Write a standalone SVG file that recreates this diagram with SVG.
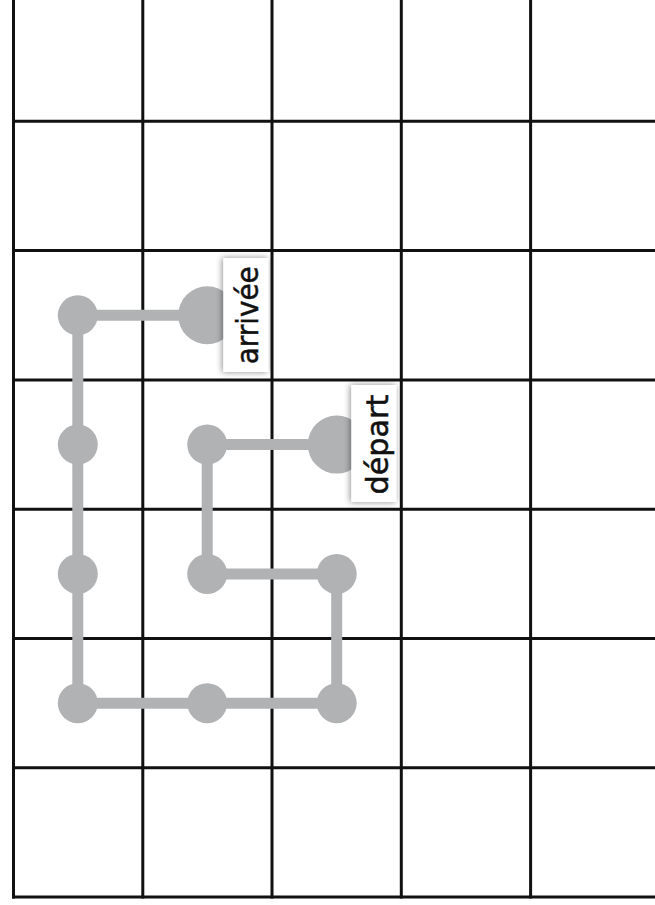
<svg xmlns="http://www.w3.org/2000/svg" width="655" height="905" viewBox="0 0 655 905">
<style>
.grid line{stroke:#111;stroke-width:3;stroke-linecap:square}
.conn line{stroke:#b1b2b4;stroke-width:11}
.dot{fill:#b1b2b4}
.lbl{fill:#fff;filter:url(#sh)}
.txt{font-family:"DejaVu Sans",sans-serif;font-size:30px;fill:#111;stroke:#111;stroke-width:0.5}
</style>
<defs>
<filter id="sh" x="-50%" y="-50%" width="200%" height="200%">
<feDropShadow dx="-1" dy="0" stdDeviation="3" flood-color="#000" flood-opacity="0.45"/>
</filter>
</defs>
<rect width="655" height="905" fill="#fff"/>
<g id="grid" class="grid">
<line x1="13.5" y1="0" x2="13.5" y2="897.1"/>
<line x1="142.8" y1="0" x2="142.8" y2="897.1"/>
<line x1="272" y1="0" x2="272" y2="897.1"/>
<line x1="401.3" y1="0" x2="401.3" y2="897.1"/>
<line x1="530.6" y1="0" x2="530.6" y2="897.1"/>
<line x1="13.5" y1="121.3" x2="656" y2="121.3"/>
<line x1="13.5" y1="250.6" x2="656" y2="250.6"/>
<line x1="13.5" y1="379.9" x2="656" y2="379.9"/>
<line x1="13.5" y1="509.2" x2="656" y2="509.2"/>
<line x1="13.5" y1="638.5" x2="656" y2="638.5"/>
<line x1="13.5" y1="767.8" x2="656" y2="767.8"/>
<line x1="13.5" y1="897.1" x2="656" y2="897.1"/>
</g>
<g id="connectors" class="conn">
<line x1="77.8" y1="315.3" x2="207.2" y2="315.3"/>
<line x1="77.8" y1="315.3" x2="77.8" y2="703.2"/>
<line x1="77.8" y1="703.2" x2="336.7" y2="703.2"/>
<line x1="336.7" y1="703.2" x2="336.7" y2="573.9"/>
<line x1="336.7" y1="573.9" x2="207.2" y2="573.9"/>
<line x1="207.2" y1="573.9" x2="207.2" y2="444.6"/>
<line x1="207.2" y1="444.6" x2="336.7" y2="444.6"/>
</g>
<g id="n1"><circle class="dot" cx="77.8" cy="315.3" r="20"/></g>
<g id="n2"><circle class="dot" cx="77.8" cy="444.6" r="20"/></g>
<g id="n3"><circle class="dot" cx="77.8" cy="573.9" r="20"/></g>
<g id="n4"><circle class="dot" cx="77.8" cy="703.2" r="20"/></g>
<g id="n5"><circle class="dot" cx="207.2" cy="703.2" r="20"/></g>
<g id="n6"><circle class="dot" cx="336.7" cy="703.2" r="20"/></g>
<g id="n7"><circle class="dot" cx="336.7" cy="573.9" r="20"/></g>
<g id="n8"><circle class="dot" cx="207.2" cy="573.9" r="20"/></g>
<g id="n9"><circle class="dot" cx="207.2" cy="444.6" r="20"/></g>
<g id="arrivee">
<circle class="dot" cx="207.2" cy="315.3" r="29"/>
<rect class="lbl" x="223.3" y="258" width="45" height="114"/>
<text class="txt" transform="translate(257.5,315.3) rotate(-90)" text-anchor="middle" textLength="98" lengthAdjust="spacingAndGlyphs">arrivée</text>
</g>
<g id="depart">
<circle class="dot" cx="336.7" cy="444.6" r="29"/>
<rect class="lbl" x="351.3" y="385" width="45" height="117"/>
<text class="txt" transform="translate(388,444.6) rotate(-90)" text-anchor="middle" textLength="100" lengthAdjust="spacingAndGlyphs">départ</text>
</g>
</svg>
